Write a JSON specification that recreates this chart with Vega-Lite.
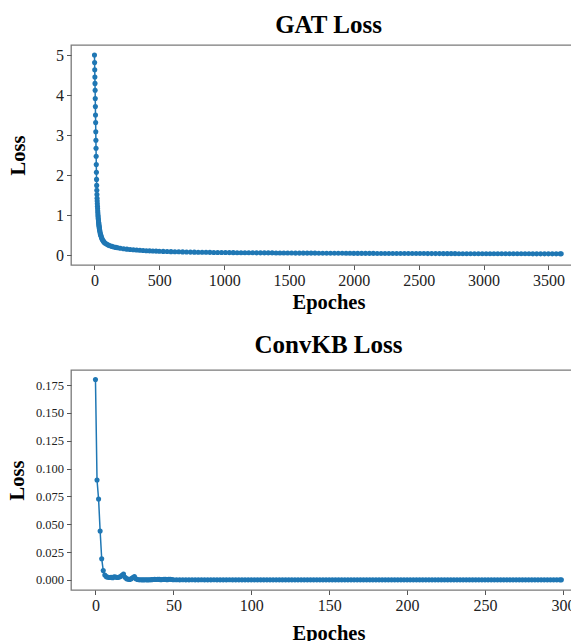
{
  "$schema": "https://vega.github.io/schema/vega-lite/v6.json",
  "background": "white",
  "padding": {"left": 7, "top": 12, "right": 0, "bottom": 0},
  "bounds": "flush",
  "spacing": 105,
  "config": {
    "font": "Liberation Serif",
    "view": {"stroke": "#7a7a7a", "strokeWidth": 1.3},
    "axis": {
      "domain": false, "grid": false, "tickColor": "#555555", "tickSize": 4.5, "tickWidth": 1,
      "labelColor": "#222222", "labelFontSize": 16, "labelFont": "Liberation Serif", "labelPadding": 3,
      "titleFont": "Liberation Serif", "titleFontWeight": "bold", "titleFontSize": 20.5, "titleColor": "#000000"
    },
    "title": {"font": "Liberation Serif", "fontSize": 25, "fontWeight": "bold", "color": "#000000", "anchor": "middle"}
  },
  "datasets": {
    "gat": [
      {"epoch": 0, "loss": 5.0}, {"epoch": 1, "loss": 4.81}, {"epoch": 2, "loss": 4.63}, {"epoch": 3, "loss": 4.45},
      {"epoch": 4, "loss": 4.29}, {"epoch": 5, "loss": 4.12}, {"epoch": 6, "loss": 3.91}, {"epoch": 7, "loss": 3.71},
      {"epoch": 8, "loss": 3.5}, {"epoch": 9, "loss": 3.31}, {"epoch": 10, "loss": 3.08}, {"epoch": 11, "loss": 2.87},
      {"epoch": 12, "loss": 2.67}, {"epoch": 13, "loss": 2.47}, {"epoch": 14, "loss": 2.26}, {"epoch": 15, "loss": 2.07},
      {"epoch": 16, "loss": 1.89}, {"epoch": 17, "loss": 1.74}, {"epoch": 18, "loss": 1.62}, {"epoch": 19, "loss": 1.51},
      {"epoch": 20, "loss": 1.42}, {"epoch": 21, "loss": 1.35}, {"epoch": 22, "loss": 1.28}, {"epoch": 23, "loss": 1.22},
      {"epoch": 24, "loss": 1.16}, {"epoch": 25, "loss": 1.1}, {"epoch": 26, "loss": 1.05}, {"epoch": 27, "loss": 1.0},
      {"epoch": 28, "loss": 0.96}, {"epoch": 29, "loss": 0.92}, {"epoch": 30, "loss": 0.88}, {"epoch": 31, "loss": 0.85},
      {"epoch": 32, "loss": 0.82}, {"epoch": 33, "loss": 0.79}, {"epoch": 34, "loss": 0.76}, {"epoch": 35, "loss": 0.73},
      {"epoch": 36, "loss": 0.71}, {"epoch": 37, "loss": 0.68}, {"epoch": 38, "loss": 0.66}, {"epoch": 39, "loss": 0.64},
      {"epoch": 40, "loss": 0.62}, {"epoch": 42, "loss": 0.58}, {"epoch": 44, "loss": 0.55}, {"epoch": 46, "loss": 0.52},
      {"epoch": 48, "loss": 0.5}, {"epoch": 50, "loss": 0.48}, {"epoch": 53, "loss": 0.45}, {"epoch": 56, "loss": 0.42},
      {"epoch": 60, "loss": 0.39}, {"epoch": 65, "loss": 0.36}, {"epoch": 70, "loss": 0.34}, {"epoch": 75, "loss": 0.32},
      {"epoch": 80, "loss": 0.3}, {"epoch": 90, "loss": 0.28}, {"epoch": 100, "loss": 0.26}, {"epoch": 110, "loss": 0.245},
      {"epoch": 120, "loss": 0.23}, {"epoch": 135, "loss": 0.215}, {"epoch": 150, "loss": 0.2}, {"epoch": 165, "loss": 0.19},
      {"epoch": 180, "loss": 0.18}, {"epoch": 200, "loss": 0.17}, {"epoch": 225, "loss": 0.157}, {"epoch": 250, "loss": 0.146},
      {"epoch": 275, "loss": 0.137}, {"epoch": 300, "loss": 0.13}, {"epoch": 325, "loss": 0.124}, {"epoch": 350, "loss": 0.118},
      {"epoch": 375, "loss": 0.113}, {"epoch": 400, "loss": 0.108}, {"epoch": 425, "loss": 0.104}, {"epoch": 450, "loss": 0.1},
      {"epoch": 475, "loss": 0.097}, {"epoch": 500, "loss": 0.094}, {"epoch": 530, "loss": 0.09}, {"epoch": 560, "loss": 0.087},
      {"epoch": 590, "loss": 0.084}, {"epoch": 620, "loss": 0.082}, {"epoch": 650, "loss": 0.08}, {"epoch": 680, "loss": 0.077},
      {"epoch": 710, "loss": 0.075}, {"epoch": 740, "loss": 0.073}, {"epoch": 770, "loss": 0.071}, {"epoch": 800, "loss": 0.07},
      {"epoch": 830, "loss": 0.068}, {"epoch": 860, "loss": 0.067}, {"epoch": 890, "loss": 0.066}, {"epoch": 920, "loss": 0.064},
      {"epoch": 950, "loss": 0.063}, {"epoch": 980, "loss": 0.062}, {"epoch": 1010, "loss": 0.061}, {"epoch": 1040, "loss": 0.06},
      {"epoch": 1070, "loss": 0.059}, {"epoch": 1100, "loss": 0.058}, {"epoch": 1130, "loss": 0.057}, {"epoch": 1160, "loss": 0.057},
      {"epoch": 1190, "loss": 0.056}, {"epoch": 1220, "loss": 0.055}, {"epoch": 1250, "loss": 0.054}, {"epoch": 1280, "loss": 0.054},
      {"epoch": 1310, "loss": 0.053}, {"epoch": 1340, "loss": 0.052}, {"epoch": 1370, "loss": 0.052}, {"epoch": 1400, "loss": 0.051},
      {"epoch": 1430, "loss": 0.05}, {"epoch": 1460, "loss": 0.05}, {"epoch": 1490, "loss": 0.049}, {"epoch": 1520, "loss": 0.049},
      {"epoch": 1550, "loss": 0.048}, {"epoch": 1580, "loss": 0.048}, {"epoch": 1610, "loss": 0.047}, {"epoch": 1640, "loss": 0.047},
      {"epoch": 1670, "loss": 0.046}, {"epoch": 1700, "loss": 0.046}, {"epoch": 1730, "loss": 0.045}, {"epoch": 1760, "loss": 0.045},
      {"epoch": 1790, "loss": 0.044}, {"epoch": 1820, "loss": 0.044}, {"epoch": 1850, "loss": 0.043}, {"epoch": 1880, "loss": 0.043},
      {"epoch": 1910, "loss": 0.043}, {"epoch": 1940, "loss": 0.042}, {"epoch": 1970, "loss": 0.042}, {"epoch": 2000, "loss": 0.041},
      {"epoch": 2030, "loss": 0.041}, {"epoch": 2060, "loss": 0.041}, {"epoch": 2090, "loss": 0.04}, {"epoch": 2120, "loss": 0.04},
      {"epoch": 2150, "loss": 0.04}, {"epoch": 2180, "loss": 0.039}, {"epoch": 2210, "loss": 0.039}, {"epoch": 2240, "loss": 0.039},
      {"epoch": 2270, "loss": 0.038}, {"epoch": 2300, "loss": 0.038}, {"epoch": 2330, "loss": 0.038}, {"epoch": 2360, "loss": 0.037},
      {"epoch": 2390, "loss": 0.037}, {"epoch": 2420, "loss": 0.037}, {"epoch": 2450, "loss": 0.036}, {"epoch": 2480, "loss": 0.036},
      {"epoch": 2510, "loss": 0.036}, {"epoch": 2540, "loss": 0.036}, {"epoch": 2570, "loss": 0.035}, {"epoch": 2600, "loss": 0.035},
      {"epoch": 2630, "loss": 0.035}, {"epoch": 2660, "loss": 0.035}, {"epoch": 2690, "loss": 0.034}, {"epoch": 2720, "loss": 0.034},
      {"epoch": 2750, "loss": 0.034}, {"epoch": 2780, "loss": 0.034}, {"epoch": 2810, "loss": 0.033}, {"epoch": 2840, "loss": 0.033},
      {"epoch": 2870, "loss": 0.033}, {"epoch": 2900, "loss": 0.033}, {"epoch": 2930, "loss": 0.032}, {"epoch": 2960, "loss": 0.032},
      {"epoch": 2990, "loss": 0.032}, {"epoch": 3020, "loss": 0.032}, {"epoch": 3050, "loss": 0.032}, {"epoch": 3080, "loss": 0.031},
      {"epoch": 3110, "loss": 0.031}, {"epoch": 3140, "loss": 0.031}, {"epoch": 3170, "loss": 0.031}, {"epoch": 3200, "loss": 0.031},
      {"epoch": 3230, "loss": 0.03}, {"epoch": 3260, "loss": 0.03}, {"epoch": 3290, "loss": 0.03}, {"epoch": 3320, "loss": 0.03},
      {"epoch": 3350, "loss": 0.03}, {"epoch": 3380, "loss": 0.029}, {"epoch": 3410, "loss": 0.029}, {"epoch": 3440, "loss": 0.029},
      {"epoch": 3470, "loss": 0.029}, {"epoch": 3500, "loss": 0.029}, {"epoch": 3530, "loss": 0.029}, {"epoch": 3560, "loss": 0.028},
      {"epoch": 3590, "loss": 0.028}, {"epoch": 3599, "loss": 0.028}
    ],
    "convkb": [
      {"epoch": 0, "loss": 0.18}, {"epoch": 1, "loss": 0.0897}, {"epoch": 2, "loss": 0.0727}, {"epoch": 3, "loss": 0.044},
      {"epoch": 4, "loss": 0.0191}, {"epoch": 5, "loss": 0.0084}, {"epoch": 6, "loss": 0.0045}, {"epoch": 7, "loss": 0.003},
      {"epoch": 8, "loss": 0.0025}, {"epoch": 9, "loss": 0.0022}, {"epoch": 10, "loss": 0.0024}, {"epoch": 11, "loss": 0.0021},
      {"epoch": 12, "loss": 0.0028}, {"epoch": 13, "loss": 0.0026}, {"epoch": 14, "loss": 0.0022}, {"epoch": 15, "loss": 0.0024},
      {"epoch": 16, "loss": 0.0031}, {"epoch": 17, "loss": 0.0042}, {"epoch": 18, "loss": 0.0054}, {"epoch": 19, "loss": 0.0025},
      {"epoch": 20, "loss": 0.0012}, {"epoch": 21, "loss": 0.0006}, {"epoch": 22, "loss": 0.0004}, {"epoch": 23, "loss": 0.0012},
      {"epoch": 24, "loss": 0.0022}, {"epoch": 25, "loss": 0.003}, {"epoch": 26, "loss": 0.0011}, {"epoch": 27, "loss": 0.0004},
      {"epoch": 28, "loss": 0.0002}, {"epoch": 29, "loss": 0.0002}, {"epoch": 30, "loss": 0.0001}, {"epoch": 31, "loss": 0.0001},
      {"epoch": 32, "loss": 0.0002}, {"epoch": 33, "loss": 0.0001}, {"epoch": 34, "loss": 0.0001}, {"epoch": 35, "loss": 0.0002},
      {"epoch": 36, "loss": 0.0003}, {"epoch": 37, "loss": 0.0004}, {"epoch": 38, "loss": 0.0005}, {"epoch": 39, "loss": 0.0004},
      {"epoch": 40, "loss": 0.0006}, {"epoch": 41, "loss": 0.0005}, {"epoch": 42, "loss": 0.0003}, {"epoch": 43, "loss": 0.0004},
      {"epoch": 44, "loss": 0.0005}, {"epoch": 45, "loss": 0.0005}, {"epoch": 46, "loss": 0.0003}, {"epoch": 47, "loss": 0.0006},
      {"epoch": 48, "loss": 0.0007}, {"epoch": 49, "loss": 0.0004},
      {"epoch": 50, "loss": 0.0002}, {"epoch": 52, "loss": 0.0002}, {"epoch": 54, "loss": 0.0001}, {"epoch": 56, "loss": 0.0002},
      {"epoch": 58, "loss": 0.0001}, {"epoch": 60, "loss": 0.0001}, {"epoch": 62, "loss": 0.0002}, {"epoch": 64, "loss": 0.0001},
      {"epoch": 66, "loss": 0.0001}, {"epoch": 68, "loss": 0.0002}, {"epoch": 70, "loss": 0.0001}, {"epoch": 72, "loss": 0.0001},
      {"epoch": 74, "loss": 0.0001}, {"epoch": 76, "loss": 0.0002}, {"epoch": 78, "loss": 0.0001}, {"epoch": 80, "loss": 0.0001},
      {"epoch": 82, "loss": 0.0001}, {"epoch": 84, "loss": 0.0001}, {"epoch": 86, "loss": 0.0002}, {"epoch": 88, "loss": 0.0001},
      {"epoch": 90, "loss": 0.0001}, {"epoch": 92, "loss": 0.0001}, {"epoch": 94, "loss": 0.0001}, {"epoch": 96, "loss": 0.0001},
      {"epoch": 98, "loss": 0.0001}, {"epoch": 100, "loss": 0.0001}, {"epoch": 102, "loss": 0.0001}, {"epoch": 104, "loss": 0.0001},
      {"epoch": 106, "loss": 0.0001}, {"epoch": 108, "loss": 0.0001}, {"epoch": 110, "loss": 0.0001}, {"epoch": 112, "loss": 0.0001},
      {"epoch": 114, "loss": 0.0001}, {"epoch": 116, "loss": 0.0001}, {"epoch": 118, "loss": 0.0001}, {"epoch": 120, "loss": 0.0001},
      {"epoch": 122, "loss": 0.0001}, {"epoch": 124, "loss": 0.0001}, {"epoch": 126, "loss": 0.0001}, {"epoch": 128, "loss": 0.0001},
      {"epoch": 130, "loss": 0.0001}, {"epoch": 132, "loss": 0.0001}, {"epoch": 134, "loss": 0.0001}, {"epoch": 136, "loss": 0.0001},
      {"epoch": 138, "loss": 0.0001}, {"epoch": 140, "loss": 0.0001}, {"epoch": 142, "loss": 0.0001}, {"epoch": 144, "loss": 0.0001},
      {"epoch": 146, "loss": 0.0001}, {"epoch": 148, "loss": 0.0001}, {"epoch": 150, "loss": 0.0001}, {"epoch": 152, "loss": 0.0001},
      {"epoch": 154, "loss": 0.0001}, {"epoch": 156, "loss": 0.0001}, {"epoch": 158, "loss": 0.0001}, {"epoch": 160, "loss": 0.0001},
      {"epoch": 162, "loss": 0.0001}, {"epoch": 164, "loss": 0.0001}, {"epoch": 166, "loss": 0.0001}, {"epoch": 168, "loss": 0.0001},
      {"epoch": 170, "loss": 0.0001}, {"epoch": 172, "loss": 0.0001}, {"epoch": 174, "loss": 0.0001}, {"epoch": 176, "loss": 0.0001},
      {"epoch": 178, "loss": 0.0001}, {"epoch": 180, "loss": 0.0001}, {"epoch": 182, "loss": 0.0001}, {"epoch": 184, "loss": 0.0001},
      {"epoch": 186, "loss": 0.0001}, {"epoch": 188, "loss": 0.0001}, {"epoch": 190, "loss": 0.0001}, {"epoch": 192, "loss": 0.0001},
      {"epoch": 194, "loss": 0.0001}, {"epoch": 196, "loss": 0.0001}, {"epoch": 198, "loss": 0.0001}, {"epoch": 200, "loss": 0.0001},
      {"epoch": 202, "loss": 0.0001}, {"epoch": 204, "loss": 0.0001}, {"epoch": 206, "loss": 0.0001}, {"epoch": 208, "loss": 0.0001},
      {"epoch": 210, "loss": 0.0001}, {"epoch": 212, "loss": 0.0001}, {"epoch": 214, "loss": 0.0001}, {"epoch": 216, "loss": 0.0001},
      {"epoch": 218, "loss": 0.0001}, {"epoch": 220, "loss": 0.0001}, {"epoch": 222, "loss": 0.0001}, {"epoch": 224, "loss": 0.0001},
      {"epoch": 226, "loss": 0.0001}, {"epoch": 228, "loss": 0.0001}, {"epoch": 230, "loss": 0.0001}, {"epoch": 232, "loss": 0.0001},
      {"epoch": 234, "loss": 0.0001}, {"epoch": 236, "loss": 0.0001}, {"epoch": 238, "loss": 0.0001}, {"epoch": 240, "loss": 0.0001},
      {"epoch": 242, "loss": 0.0001}, {"epoch": 244, "loss": 0.0001}, {"epoch": 246, "loss": 0.0001}, {"epoch": 248, "loss": 0.0001},
      {"epoch": 250, "loss": 0.0001}, {"epoch": 252, "loss": 0.0001}, {"epoch": 254, "loss": 0.0001}, {"epoch": 256, "loss": 0.0001},
      {"epoch": 258, "loss": 0.0001}, {"epoch": 260, "loss": 0.0001}, {"epoch": 262, "loss": 0.0001}, {"epoch": 264, "loss": 0.0001},
      {"epoch": 266, "loss": 0.0001}, {"epoch": 268, "loss": 0.0001}, {"epoch": 270, "loss": 0.0001}, {"epoch": 272, "loss": 0.0001},
      {"epoch": 274, "loss": 0.0001}, {"epoch": 276, "loss": 0.0001}, {"epoch": 278, "loss": 0.0001}, {"epoch": 280, "loss": 0.0001},
      {"epoch": 282, "loss": 0.0001}, {"epoch": 284, "loss": 0.0001}, {"epoch": 286, "loss": 0.0001}, {"epoch": 288, "loss": 0.0001},
      {"epoch": 290, "loss": 0.0001}, {"epoch": 292, "loss": 0.0001}, {"epoch": 294, "loss": 0.0001}, {"epoch": 296, "loss": 0.0001},
      {"epoch": 298, "loss": 0.0001}, {"epoch": 299, "loss": 0.0001}
    ]
  },
  "vconcat": [
    {
      "title": {"text": "GAT Loss", "offset": -13, "baseline": "alphabetic"},
      "width": 515,
      "height": 220,
      "data": {"name": "gat"},
      "mark": {"type": "line", "color": "#1f77b4", "strokeWidth": 1.5, "point": {"filled": true, "size": 26, "color": "#1f77b4", "opacity": 1}},
      "encoding": {
        "x": {"field": "epoch", "type": "quantitative",
              "scale": {"domain": [-181, 3790], "nice": false, "zero": false},
              "axis": {"title": "Epoches", "values": [0, 500, 1000, 1500, 2000, 2500, 3000, 3500], "format": "d", "titlePadding": 4}},
        "y": {"field": "loss", "type": "quantitative",
              "scale": {"domain": [-0.25, 5.25], "nice": false, "zero": false},
              "axis": {"title": "Loss", "values": [0, 1, 2, 3, 4, 5], "titlePadding": 27}}
      }
    },
    {
      "title": {"text": "ConvKB Loss", "offset": -8, "baseline": "alphabetic"},
      "width": 515,
      "height": 220,
      "data": {"name": "convkb"},
      "mark": {"type": "line", "color": "#1f77b4", "strokeWidth": 1.5, "point": {"filled": true, "size": 26, "color": "#1f77b4", "opacity": 1}},
      "encoding": {
        "x": {"field": "epoch", "type": "quantitative",
              "scale": {"domain": [-15.7, 314.8], "nice": false, "zero": false},
              "axis": {"title": "Epoches", "values": [0, 50, 100, 150, 200, 250, 300], "format": "d", "titlePadding": 10}},
        "y": {"field": "loss", "type": "quantitative",
              "scale": {"domain": [-0.009, 0.1885], "nice": false, "zero": false},
              "axis": {"title": "Loss", "values": [0, 0.025, 0.05, 0.075, 0.1, 0.125, 0.15, 0.175], "format": ".3f", "labelFontSize": 12.5, "titlePadding": 7.5}}
      }
    }
  ]
}
